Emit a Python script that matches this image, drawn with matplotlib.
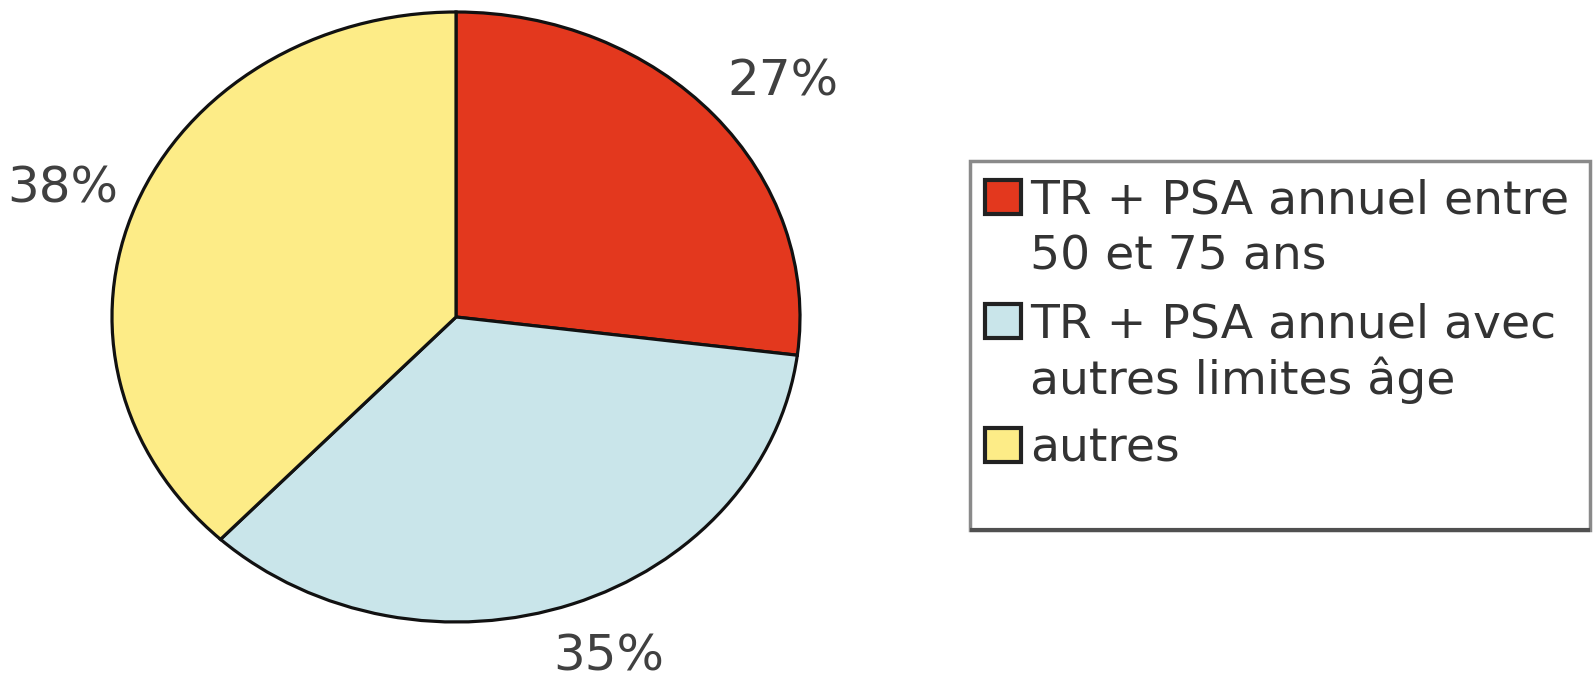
import matplotlib
matplotlib.use("Agg")
import matplotlib.pyplot as plt
from matplotlib.patches import Rectangle

# Share of screening practices
labels = ["TR + PSA annuel entre\n50 et 75 ans",
          "TR + PSA annuel avec\nautres limites âge",
          "autres"]
values = [27, 35, 38]
colors = ["#E3381E", "#C9E5EA", "#FDEC87"]

W, H = 1594, 682
fig = plt.figure(figsize=(W / 100, H / 100), dpi=100)
fig.patch.set_facecolor("white")

# Pie area (slightly wider than tall)
px_x, px_y = 344.0, 305.0
ax = fig.add_axes([112 / W, (H - 622) / H, 2 * px_x / W, 2 * px_y / H])
wedges, texts, autotexts = ax.pie(
    values,
    colors=colors,
    startangle=90,
    counterclock=False,
    autopct=lambda p: f"{p:.0f}%",
    pctdistance=1.23,
    wedgeprops=dict(edgecolor="#111111", linewidth=2.3),
    textprops=dict(fontsize=36, color="#404040", family="DejaVu Sans"),
)
for w in wedges:
    w.set_clip_on(False)

# small pixel nudges for the percentage labels
nudges = [(10, -13), (9, 13), (0, -10)]
for t, (dx, dy) in zip(autotexts, nudges):
    x, y = t.get_position()
    t.set_position((x + dx / px_x, y + dy / px_y))

ax.set_aspect("auto")
ax.set_xlim(-1, 1)
ax.set_ylim(-1, 1)
ax.axis("off")

# Legend panel drawn in pixel coordinates
lax = fig.add_axes([0, 0, 1, 1], zorder=-1)
lax.set_xlim(0, W)
lax.set_ylim(H, 0)
lax.axis("off")

box_x, box_y, box_w, box_h = 970, 161, 620, 369
lax.add_patch(Rectangle((box_x, box_y), box_w, box_h, facecolor="white",
                        edgecolor="#8a8a8a", linewidth=2.5))
lax.plot([box_x, box_x + box_w], [box_y + box_h, box_y + box_h],
         color="#505050", linewidth=3, solid_capstyle="butt")

baseline = 213
line_step = 57
entry_gap = 67
for lab, col in zip(labels, colors):
    lines = lab.split("\n")
    lax.add_patch(Rectangle((985, baseline - 16 - 17), 36, 34, facecolor=col,
                            edgecolor="#222222", linewidth=3))
    for k, line in enumerate(lines):
        lax.text(1030, baseline, line, fontsize=34, color="#333333",
                 family="DejaVu Sans", ha="left", va="baseline")
        if k < len(lines) - 1:
            baseline += line_step
    baseline += entry_gap

fig.savefig("out.png", dpi=100, facecolor="white")
